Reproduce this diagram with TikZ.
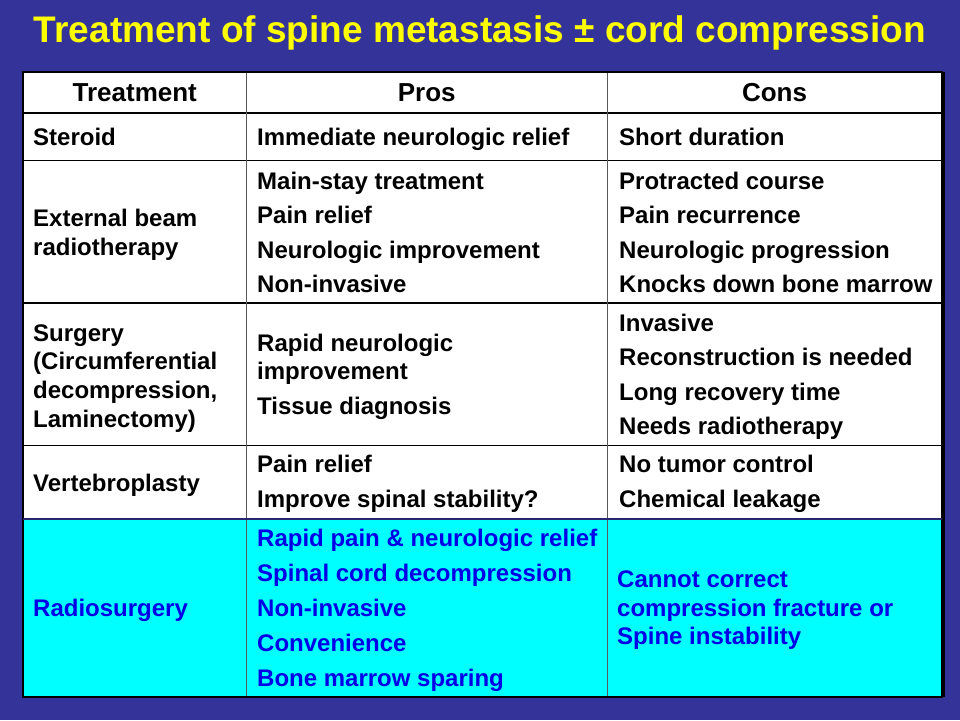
\documentclass[tikz,border=0pt]{standalone}
\usepackage{fontspec}
\setmainfont{Liberation Sans}
\usepackage{xcolor}
\usetikzlibrary{positioning}
\definecolor{slidebg}{RGB}{51,51,153}
\definecolor{titleyellow}{RGB}{255,255,0}
\definecolor{radiocyan}{RGB}{0,255,255}
\definecolor{radioblue}{RGB}{0,0,230}
\definecolor{cyanedge}{RGB}{40,40,110}
\tikzset{
  slide/.style={x=1pt,y=-1pt},
  title/.style={anchor=base,inner sep=0pt,text=titleyellow,
    font=\fontsize{37}{44}\selectfont\bfseries},
  head/.style={anchor=base,inner sep=0pt,font=\fontsize{26}{32}\selectfont\bfseries},
  entry/.style={anchor=base west,inner sep=0pt,font=\fontsize{24}{34.5}\selectfont\bfseries},
  wrapped/.style={anchor=base west,inner sep=0pt,font=\fontsize{24}{28.7}\selectfont\bfseries},
  radio/.style={text=radioblue},
  rule/.style={line width=1.2pt,draw=black},
  colrule/.style={line width=1pt,draw=black!65},
}
\newcommand{\lines}[1]{\begin{tabular}[t]{@{}l@{}}#1\end{tabular}}

\begin{document}
\begin{tikzpicture}[slide]
  \fill[slidebg] (0,0) rectangle (960,720);
  \node[title] (title) at (480,42) {Treatment of spine metastasis ± cord compression};
  % table
  \fill[white] (23,72) rectangle (942,519);
  \fill[radiocyan] (23,519) rectangle (942,697);
  \draw[line width=3pt] (943.5,72) -- (943.5,697);
  \draw[rule] (23,113) -- (942,113) (23,160.5) -- (942,160.5)
    (23,303) -- (942,303) (23,445.5) -- (942,445.5);
  \draw[colrule] (246.5,72) -- (246.5,697) (607,72) -- (607,697);
  \draw[rule] (23,72) rectangle (942,697);
  \draw[line width=1.5pt,cyanedge] (23,519) -- (942,519);
  \node[head] (treatment) at (134.75,101.7) {Treatment};
  \node[head] (pros) at (426.75,101.7) {Pros};
  \node[head] (cons) at (774.5,101.7) {Cons};
  \node[entry] (steroid) at (33,145.5) {Steroid};
  \node[entry] (steroid pros) at (257,145.5) {Immediate neurologic relief};
  \node[entry] (steroid cons) at (619,145.5) {Short duration};
  \node[wrapped] (ebrt) at (33,226.7) {\lines{External beam\\radiotherapy}};
  \node[entry] (ebrt pros) at (257,189) {\lines{Main-stay treatment\\Pain relief\\Neurologic improvement\\Non-invasive}};
  \node[entry] (ebrt cons) at (619,189) {\lines{Protracted course\\Pain recurrence\\Neurologic progression\\Knocks down bone marrow}};
  \node[wrapped] (surgery) at (33,341) {\lines{Surgery\\(Circumferential\\decompression,\\Laminectomy)}};
  \node[wrapped] (surgery pros) at (257,351) {\lines{Rapid neurologic\\improvement\\[6pt]Tissue diagnosis}};
  \node[entry] (surgery cons) at (619,331) {\lines{Invasive\\Reconstruction is needed\\Long recovery time\\Needs radiotherapy}};
  \node[entry] (vertebro) at (33,491) {Vertebroplasty};
  \node[entry] (vertebro pros) at (257,472.7) {\lines{Pain relief\\Improve spinal stability?}};
  \node[entry] (vertebro cons) at (619,472.7) {\lines{No tumor control\\Chemical leakage}};
  \node[entry,radio] (radiosurgery) at (33,616.7) {Radiosurgery};
  \node[entry,radio,font=\fontsize{24}{35}\selectfont\bfseries] (radio pros) at (257,546.7) {\lines{Rapid pain \& neurologic relief\\Spinal cord decompression\\Non-invasive\\Convenience\\Bone marrow sparing}};
  \node[wrapped,radio] (radio cons) at (617,587.3) {\lines{Cannot correct\\compression fracture or\\Spine instability}};
\end{tikzpicture}
\end{document}
